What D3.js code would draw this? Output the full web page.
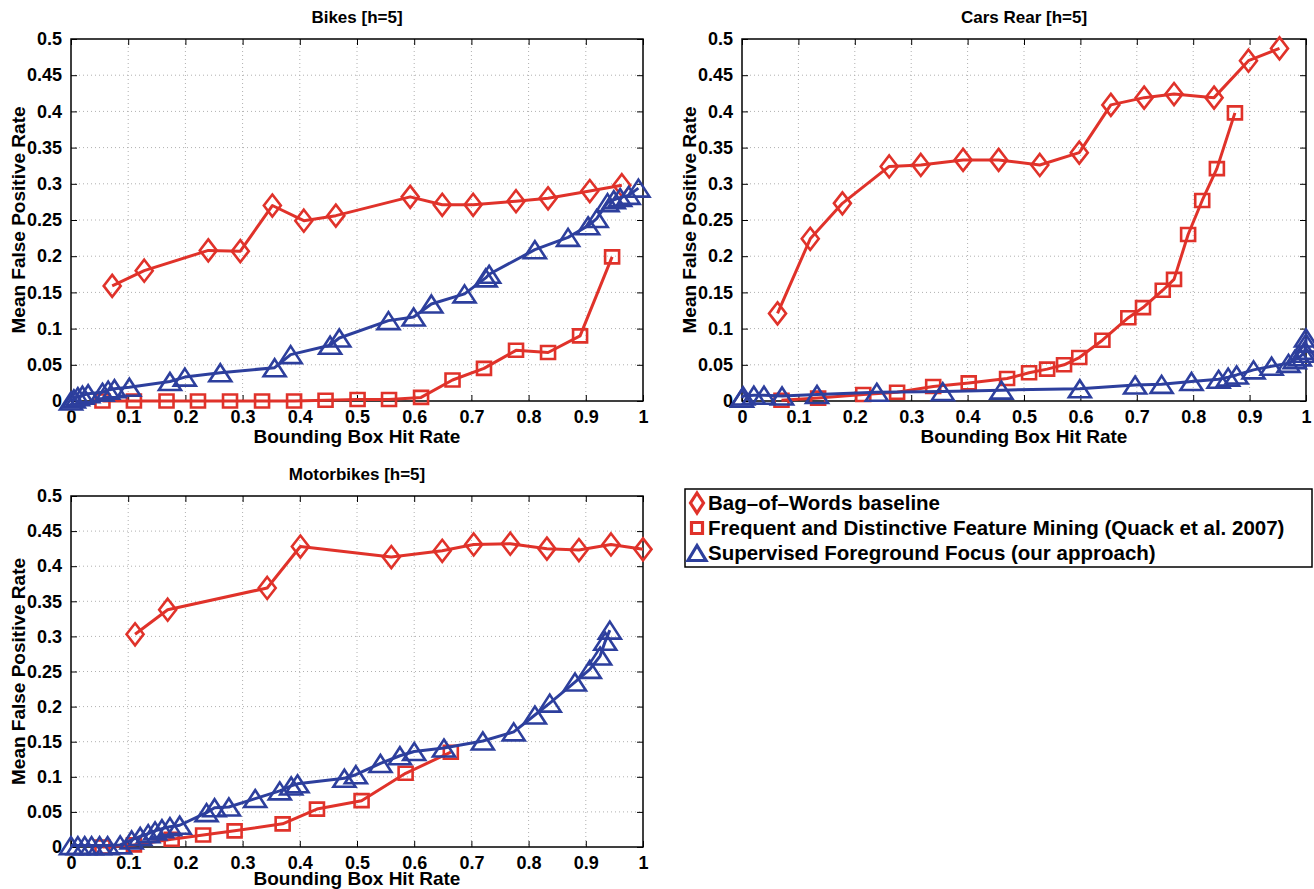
<!DOCTYPE html>
<html>
<head>
<meta charset="utf-8">
<script src="https://cdn.jsdelivr.net/npm/d3@7"></script>
<style>
  body { margin: 0; background: #fff; }
  svg { display: block; }
  text { font-family: "Liberation Sans", Arial, Helvetica, sans-serif; font-weight: bold; fill: #000; }
</style>
</head>
<body>
<div id="chart"></div>
<script>
// tick labels
var xTicks = [0, 0.1, 0.2, 0.3, 0.4, 0.5, 0.6, 0.7, 0.8, 0.9, 1]
var yTicks = [0, 0.05, 0.1, 0.15, 0.2, 0.25, 0.3, 0.35, 0.4, 0.45, 0.5]

var seriesNames = ["Bag\u2013of\u2013Words baseline",
  "Frequent and Distinctive Feature Mining (Quack et al. 2007)",
  "Supervised Foreground Focus (our approach)"]

// Bikes [h=5]  -- [hit rate, mean false positive rate]
var bikesBow = [[0.072,0.159],[0.128,0.180],[0.240,0.208],[0.296,0.207],[0.352,0.270],[0.407,0.249],
  [0.463,0.256],[0.593,0.282],[0.649,0.271],[0.703,0.271],[0.778,0.276],[0.834,0.280],[0.907,0.290],[0.963,0.298]]
var bikesFdfm = [[0.055,0],[0.110,0],[0.167,0],[0.222,0],[0.278,0],[0.334,0],[0.390,0],[0.445,0.001],
  [0.501,0.002],[0.556,0.002],[0.612,0.005],[0.667,0.029],[0.722,0.045],[0.778,0.070],[0.834,0.067],
  [0.890,0.090],[0.946,0.199]]
var bikesSff = [[0,0],[0.005,0.003],[0.012,0.006],[0.020,0.008],[0.030,0.010],[0.055,0.012],[0.065,0.015],
  [0.076,0.017],[0.102,0.019],[0.173,0.027],[0.199,0.033],[0.261,0.039],[0.356,0.046],[0.384,0.064],
  [0.453,0.077],[0.469,0.087],[0.555,0.111],[0.599,0.116],[0.630,0.134],[0.688,0.148],[0.725,0.170],
  [0.731,0.175],[0.811,0.209],[0.869,0.226],[0.904,0.242],[0.919,0.252],[0.938,0.274],[0.949,0.278],
  [0.960,0.281],[0.975,0.284],[0.992,0.294]]

// Cars Rear [h=5]
var carsBow = [[0.063,0.121],[0.121,0.224],[0.178,0.273],[0.261,0.324],[0.317,0.326],[0.392,0.333],
  [0.455,0.333],[0.528,0.326],[0.598,0.343],[0.654,0.409],[0.713,0.419],[0.766,0.424],[0.837,0.419],
  [0.898,0.470],[0.953,0.487]]
var carsFdfm = [[0.070,0.001],[0.135,0.004],[0.215,0.009],[0.275,0.012],[0.339,0.020],[0.402,0.025],
  [0.470,0.031],[0.509,0.039],[0.541,0.044],[0.571,0.050],[0.598,0.060],[0.639,0.084],[0.685,0.115],
  [0.711,0.129],[0.746,0.153],[0.766,0.168],[0.791,0.230],[0.816,0.277],[0.842,0.321],[0.874,0.398]]
var carsSff = [[0,0.004],[0.002,0.007],[0.021,0.008],[0.039,0.008],[0.071,0.007],[0.133,0.009],
  [0.239,0.012],[0.356,0.013],[0.460,0.015],[0.599,0.017],[0.697,0.022],[0.744,0.023],[0.797,0.027],
  [0.845,0.030],[0.862,0.033],[0.877,0.036],[0.907,0.043],[0.939,0.048],[0.969,0.052],[0.980,0.057],
  [0.989,0.061],[0.996,0.066],[0.998,0.070],[1.0,0.080],[1.0,0.087]]

// Motorbikes [h=5]
var motoBow = [[0.112,0.303],[0.169,0.338],[0.343,0.369],[0.401,0.428],[0.560,0.413],[0.649,0.422],
  [0.704,0.431],[0.768,0.432],[0.832,0.425],[0.888,0.423],[0.944,0.431],[1.0,0.424]]
var motoFdfm = [[0.055,0],[0.110,0.003],[0.176,0.011],[0.231,0.017],[0.286,0.023],[0.370,0.033],
  [0.430,0.054],[0.508,0.066],[0.585,0.105],[0.664,0.135]]
var motoSff = [[0,0.002],[0.012,0.002],[0.024,0.002],[0.036,0.002],[0.050,0.002],[0.064,0.002],
  [0.086,0.003],[0.106,0.010],[0.121,0.015],[0.135,0.019],[0.147,0.023],[0.159,0.026],[0.173,0.029],
  [0.190,0.031],[0.237,0.049],[0.251,0.056],[0.276,0.057],[0.322,0.069],[0.365,0.080],[0.385,0.087],
  [0.396,0.090],[0.478,0.098],[0.498,0.103],[0.541,0.119],[0.575,0.130],[0.600,0.136],[0.652,0.141],
  [0.720,0.151],[0.774,0.164],[0.811,0.188],[0.837,0.205],[0.881,0.235],[0.907,0.253],[0.925,0.272],
  [0.934,0.293],[0.942,0.309]]

var red = "#e0322a"
var blue = "#2d3f9d"

var W = 1314, H = 889

var svg = d3.select("#chart").append("svg").attr("width", W).attr("height", H)

// marker shapes (w x h box)
function diamond(w, h){
  return "M0," + (-h/2) + "L" + (w/2) + ",0L0," + (h/2) + "L" + (-w/2) + ",0Z"
}
function square(w, h){
  return "M" + (-w/2) + "," + (-h/2) + "h" + w + "v" + h + "h" + (-w) + "Z"
}
function triangle(w, h){
  return "M0," + (-h/2) + "L" + (w/2) + "," + (h/2) + "L" + (-w/2) + "," + (h/2) + "Z"
}

function drawPanel(p){
  var x = d3.scaleLinear().domain([0, 1]).range([p.x0, p.x1])
  var y = d3.scaleLinear().domain([0, 0.5]).range([p.y1, p.y0])
  var g = svg.append("g")

  // grid
  g.selectAll(".gx").data(xTicks.slice(1, -1)).join("line")
    .attr("x1", d => x(d)).attr("x2", d => x(d)).attr("y1", p.y0).attr("y2", p.y1)
    .attr("stroke", "#b0b0b0").attr("stroke-width", 1).attr("stroke-dasharray", "1,3")
  g.selectAll(".gy").data(yTicks.slice(1, -1)).join("line")
    .attr("y1", d => y(d)).attr("y2", d => y(d)).attr("x1", p.x0).attr("x2", p.x1)
    .attr("stroke", "#b0b0b0").attr("stroke-width", 1).attr("stroke-dasharray", "1,3")

  // axes with inward ticks on all sides
  var fmt = d => d3.format("~g")(d)
  var ax = [
    g.append("g").attr("transform", "translate(0," + p.y1 + ")").call(d3.axisBottom(x).tickValues(xTicks).tickFormat(fmt).tickSizeInner(-6).tickSizeOuter(0).tickPadding(9)),
    g.append("g").attr("transform", "translate(0," + p.y0 + ")").call(d3.axisTop(x).tickValues(xTicks).tickFormat("").tickSizeInner(-6).tickSizeOuter(0)),
    g.append("g").attr("transform", "translate(" + p.x0 + ",0)").call(d3.axisLeft(y).tickValues(yTicks).tickFormat(fmt).tickSizeInner(-6).tickSizeOuter(0).tickPadding(9)),
    g.append("g").attr("transform", "translate(" + p.x1 + ",0)").call(d3.axisRight(y).tickValues(yTicks).tickFormat("").tickSizeInner(-6).tickSizeOuter(0))
  ]
  ax.forEach(function(a){
    a.select(".domain").remove()
    a.selectAll("line").attr("stroke", "#000").attr("stroke-width", 1)
    a.selectAll("text").attr("font-size", 18).attr("font-family", null).attr("font-weight", "bold").attr("fill", "#000")
  })

  g.append("rect").attr("x", p.x0).attr("y", p.y0).attr("width", p.x1 - p.x0).attr("height", p.y1 - p.y0)
    .attr("fill", "none").attr("stroke", "#000").attr("stroke-width", 1.5)

  // labels
  g.append("text").text(p.title).attr("x", (p.x0 + p.x1) / 2).attr("y", p.y0 - 16)
    .attr("text-anchor", "middle").attr("font-size", 17)
  g.append("text").text("Bounding Box Hit Rate").attr("x", (p.x0 + p.x1) / 2).attr("y", p.y1 + p.xlab)
    .attr("text-anchor", "middle").attr("font-size", 19)
  g.append("text").text("Mean False Positive Rate")
    .attr("transform", "translate(" + (p.x0 - 46) + "," + ((p.y0 + p.y1) / 2) + ") rotate(-90)")
    .attr("text-anchor", "middle").attr("font-size", 19)

  var line = d3.line().x(d => x(d[0])).y(d => y(d[1]))
  var series = [
    {data: p.bow, color: red, shape: diamond(17, 22)},
    {data: p.fdfm, color: red, shape: square(14, 13)},
    {data: p.sff, color: blue, shape: triangle(22, 17)}
  ]
  series.forEach(function(s){
    g.append("path").datum(s.data).attr("d", line)
      .attr("fill", "none").attr("stroke", s.color).attr("stroke-width", 3).attr("stroke-linejoin", "round")
    g.selectAll(null).data(s.data).join("path")
      .attr("d", s.shape)
      .attr("transform", d => "translate(" + x(d[0]) + "," + y(d[1]) + ")")
      .attr("fill", "none").attr("stroke", s.color).attr("stroke-width", 2.6).attr("stroke-linejoin", "miter")
  })
}

drawPanel({title: "Bikes [h=5]", x0: 71, x1: 643, y0: 39, y1: 401, xlab: 42, bow: bikesBow, fdfm: bikesFdfm, sff: bikesSff})
drawPanel({title: "Cars Rear [h=5]", x0: 742, x1: 1306, y0: 39, y1: 401, xlab: 42, bow: carsBow, fdfm: carsFdfm, sff: carsSff})
drawPanel({title: "Motorbikes [h=5]", x0: 71, x1: 643, y0: 496, y1: 847, xlab: 38, bow: motoBow, fdfm: motoFdfm, sff: motoSff})

// legend
var leg = svg.append("g")
leg.append("rect").attr("x", 685).attr("y", 489).attr("width", 627).attr("height", 78)
  .attr("fill", "#fff").attr("stroke", "#000").attr("stroke-width", 1.5)
var legShapes = [diamond(13, 20), square(11, 11), triangle(18, 15)]
var legColors = [red, red, blue]
var legY = d3.scalePoint().domain(seriesNames).range([503, 553])
leg.selectAll(".lm").data(seriesNames).join("path")
  .attr("d", (d, i) => legShapes[i])
  .attr("transform", d => "translate(697," + legY(d) + ")")
  .attr("fill", "none").attr("stroke", (d, i) => legColors[i]).attr("stroke-width", 3.2)
leg.selectAll(".lt").data(seriesNames).join("text")
  .text(d => d)
  .attr("x", 708).attr("y", d => legY(d)).attr("dy", "0.36em")
  .attr("font-size", 20.5)
</script>
</body>
</html>
